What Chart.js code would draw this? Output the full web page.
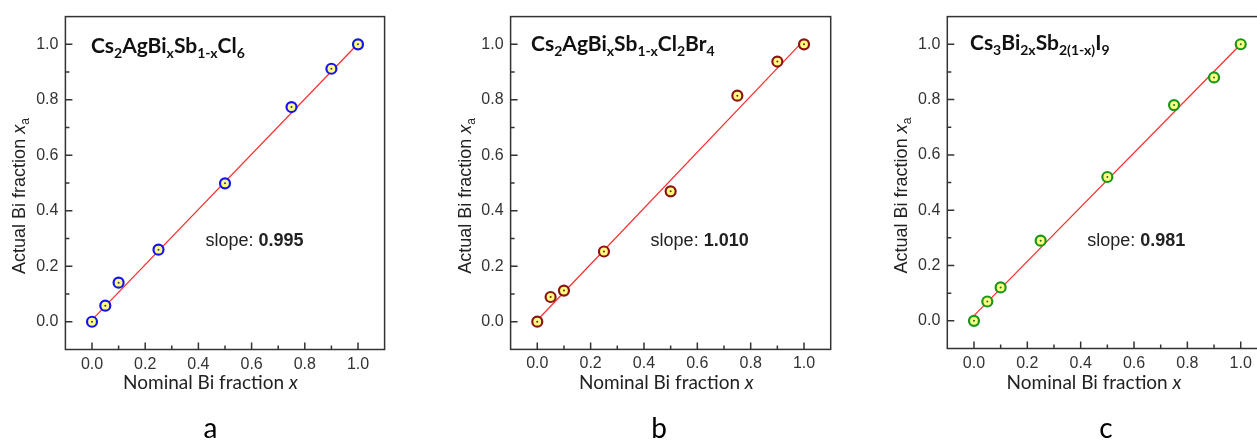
<!DOCTYPE html>
<html>
<head>
<meta charset="utf-8">
<script src="https://cdn.jsdelivr.net/npm/chart.js@4.4.1/dist/chart.umd.min.js"></script>
<style>
  body { margin:0; background:#fff; overflow:hidden; width:1257px; height:442px; position:relative; }
  canvas { position:absolute; top:0; }
</style>
</head>
<body>
<canvas id="chartA" width="420" height="442" style="left:0"></canvas>
<canvas id="chartB" width="420" height="442" style="left:420px"></canvas>
<canvas id="chartC" width="440" height="442" style="left:840px"></canvas>
<script>
// nominal vs measured Bi fraction
const nominalX = [0, 0.05, 0.1, 0.25, 0.5, 0.75, 0.9, 1.0];
const actualA = [0.0, 0.058, 0.141, 0.260, 0.499, 0.774, 0.912, 1.0];
const actualB = [0.0, 0.089, 0.112, 0.253, 0.470, 0.815, 0.938, 1.0];
const actualC = [0.0, 0.070, 0.121, 0.290, 0.520, 0.780, 0.880, 1.0];
// linear fits, y at x=0 and x=1
const fitA = [0.007, 1.002];
const fitB = [0.005, 1.015];
const fitC = [0.019, 1.000];
const slopes = ['0.995', '1.010', '0.981'];
const formulas = ['Cs_{2}AgBi_{x}Sb_{1-x}Cl_{6}', 'Cs_{2}AgBi_{x}Sb_{1-x}Cl_{2}Br_{4}', 'Cs_{3}Bi_{2x}Sb_{2(1-x)}I_{9}'];
const letters = ['a', 'b', 'c'];
const tickValues = [0, 0.2, 0.4, 0.6, 0.8, 1.0];
const minorTicks = [0.1, 0.3, 0.5, 0.7, 0.9];

const SANS = '"Liberation Sans", Arial, sans-serif';
const CAL = 'Lato, "Open Sans", sans-serif';

function parseFormula(str) {
  const runs = [];
  str.split(/(_\{[^}]*\})/).forEach(p => {
    if (!p) return;
    if (p.startsWith('_{')) runs.push({ text: p.slice(2, -1), font: 'bold 14px ' + CAL, dy: 5 });
    else runs.push({ text: p, font: 'bold 21px ' + CAL, dy: 0 });
  });
  return runs;
}

function drawRuns(ctx, runs, x, y, align) {
  let w = 0;
  runs.forEach(r => { ctx.font = r.font; r.w = ctx.measureText(r.text).width; w += r.w; });
  let cx = align === 'center' ? x - w / 2 : x;
  ctx.textAlign = 'left';
  ctx.textBaseline = 'alphabetic';
  runs.forEach(r => { ctx.font = r.font; ctx.fillText(r.text, cx, y + (r.dy || 0)); cx += r.w; });
}

// frame, inside ticks and annotations
const decor = {
  id: 'decor',
  afterDraw(chart, args, o) {
    const { ctx, chartArea: a, scales: { x, y } } = chart;
    ctx.save();
    ctx.strokeStyle = '#333';
    ctx.lineWidth = 1.5;
    ctx.strokeRect(a.left, a.top, a.right - a.left, a.bottom - a.top);
    ctx.beginPath();
    tickValues.forEach(v => {
      const px = x.getPixelForValue(v), py = y.getPixelForValue(v);
      ctx.moveTo(px, a.bottom); ctx.lineTo(px, a.bottom - 7);
      ctx.moveTo(a.left, py); ctx.lineTo(a.left + 7, py);
    });
    minorTicks.forEach(v => {
      const px = x.getPixelForValue(v), py = y.getPixelForValue(v);
      ctx.moveTo(px, a.bottom); ctx.lineTo(px, a.bottom - 4);
      ctx.moveTo(a.left, py); ctx.lineTo(a.left + 4, py);
    });
    ctx.stroke();

    ctx.fillStyle = '#111';
    drawRuns(ctx, parseFormula(o.formula), a.left + o.titleDx, a.top + o.titleDy, 'left');

    ctx.fillStyle = '#222';
    drawRuns(ctx, [
      { text: 'slope: ', font: '18px ' + SANS },
      { text: o.slope, font: 'bold 18px ' + SANS }
    ], a.left + 140, 246, 'left');

    drawRuns(ctx, [
      { text: 'Nominal Bi fraction ', font: '19px ' + CAL },
      { text: 'x', font: 'italic 19px ' + CAL }
    ], a.left + o.xTitleDx, 389, 'center');

    ctx.save();
    ctx.translate(a.left - 40, (a.top + a.bottom) / 2 + 13);
    ctx.rotate(-Math.PI / 2);
    drawRuns(ctx, [
      { text: 'Actual Bi fraction ', font: '18px ' + SANS },
      { text: 'x', font: 'italic 18px ' + SANS },
      { text: 'a', font: '12px ' + SANS, dy: 4 }
    ], 0, 0, 'center');
    ctx.restore();

    ctx.fillStyle = '#000';
    ctx.font = '28px ' + CAL;
    ctx.textAlign = 'center';
    ctx.fillText(o.letter, a.left + o.letterDx, 438);
    ctx.restore();
  }
};

function makePanel(id, actual, fit, lay, idx) {
  const pts = nominalX.map((v, i) => ({ x: v, y: actual[i] }));
  const ctx = document.getElementById(id).getContext('2d');
  new Chart(ctx, {
    type: 'scatter',
    data: {
      datasets: [
        { data: [{ x: 0, y: fit[0] }, { x: 1, y: fit[1] }], showLine: true, borderColor: '#ff2a2a', borderWidth: 1.2, pointRadius: 0, order: 3 },
        { data: pts, pointRadius: 5, borderWidth: 2.2, backgroundColor: '#ffff80', borderColor: lay.edge, order: 2 },
        { data: pts, pointRadius: 1, borderWidth: 0, backgroundColor: lay.dot, order: 1 }
      ]
    },
    options: {
      responsive: false,
      animation: false,
      layout: { padding: { left: 0, right: lay.padRight, top: lay.top, bottom: 0 } },
      plugins: {
        legend: { display: false },
        tooltip: { enabled: false },
        decor: { formula: formulas[idx], slope: slopes[idx], letter: letters[idx], titleDx: lay.titleDx, titleDy: lay.titleDy, xTitleDx: lay.xTitleDx, letterDx: lay.letterDx }
      },
      scales: {
        x: {
          type: 'linear', min: -0.1, max: 1.1,
          afterBuildTicks: s => { s.ticks = tickValues.map(v => ({ value: v })); },
          afterFit: s => { s.height = 442 - lay.bottom; },
          grid: { display: false, drawTicks: false },
          border: { display: false },
          ticks: { padding: 5, color: '#333', font: { family: SANS, size: 16 }, callback: v => v.toFixed(1) }
        },
        y: {
          type: 'linear', min: -0.1, max: 1.1,
          afterBuildTicks: s => { s.ticks = tickValues.map(v => ({ value: v })); },
          afterFit: s => { s.width = lay.left; },
          grid: { display: false, drawTicks: false },
          border: { display: false },
          ticks: { padding: 7, color: '#333', font: { family: SANS, size: 16 }, callback: v => v.toFixed(1) }
        }
      }
    },
    plugins: [decor]
  });
}

makePanel('chartA', actualA, fitA, { left: 65.4, padRight: 35.4, top: 11.5, bottom: 349.5, edge: '#1414f0', dot: '#3030a0', titleDx: 25.5, titleDy: 36.5, xTitleDx: 145, letterDx: 145 }, 0);
makePanel('chartB', actualB, fitB, { left: 90.6, padRight: 9.3, top: 12.2, bottom: 349.4, edge: '#8c1414', dot: '#7a1a1a', titleDx: 20.5, titleDy: 34.5, xTitleDx: 155.7, letterDx: 148.4 }, 1);
makePanel('chartC', actualC, fitC, { left: 107.3, padRight: 12.6, top: 10.5, bottom: 348.5, edge: '#1a961a', dot: '#2a6a2a', titleDx: 22.7, titleDy: 33, xTitleDx: 146.7, letterDx: 158.7 }, 2);
</script>
</body>
</html>
